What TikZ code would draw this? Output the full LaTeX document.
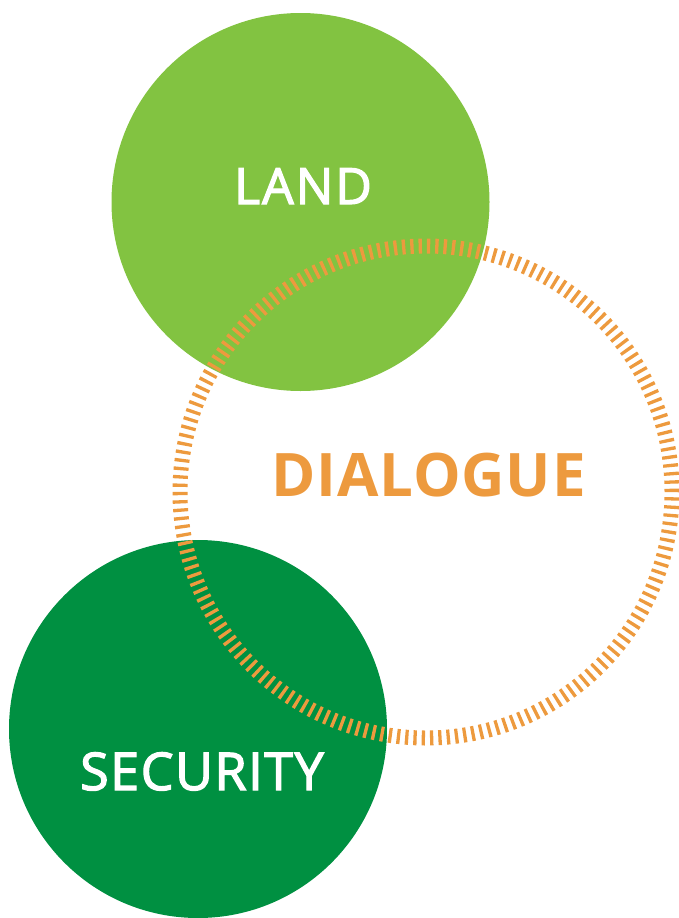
\documentclass[tikz,border=0pt]{standalone}
\usepackage{fontspec}
\setmainfont{Open Sans}
\newfontfamily\wordfont[FakeBold=2.5, LetterSpace=4]{Open Sans}
\newfontfamily\secfont[FakeBold=2.5, LetterSpace=3]{Open Sans}
\newfontfamily\dlgfont[LetterSpace=1.5]{Open Sans}
\usetikzlibrary{positioning}
\definecolor{landgreen}{RGB}{130,195,65}
\definecolor{secgreen}{RGB}{0,144,65}
\definecolor{dlgorange}{RGB}{237,154,62}

\begin{document}
\begin{tikzpicture}[x=1pt, y=-1pt,
		blob/.style={circle, inner sep=0pt, minimum size=378pt},
		word/.style={anchor=base, inner sep=0pt, text=white},
		ring/.style={draw=dlgorange, line width=15pt, dash pattern=on 3.3pt off 5.01pt}
		]
		\useasboundingbox (0,0) rectangle (679,918);
		\node[blob, fill=landgreen] (land) at (300.5, 202) {};
		\node[blob, fill=secgreen] (security) at (198, 729) {};
		\node[circle, inner sep=0pt, minimum size=492pt, ring] (dialogue) at (426, 492) {};
		\node[word, font=\wordfont\fontsize{50}{50}\selectfont] (landtxt) at (303, 204) {LAND};
		\node[word, font=\secfont\fontsize{52}{52}\selectfont] (sectxt) at (202, 790) {SECURITY};
		\node[word, text=dlgorange, font=\dlgfont\fontsize{60}{60}\selectfont\bfseries] (dlgtxt) at (428.5, 496.7) {DIALOGUE};
\end{tikzpicture}
\end{document}
